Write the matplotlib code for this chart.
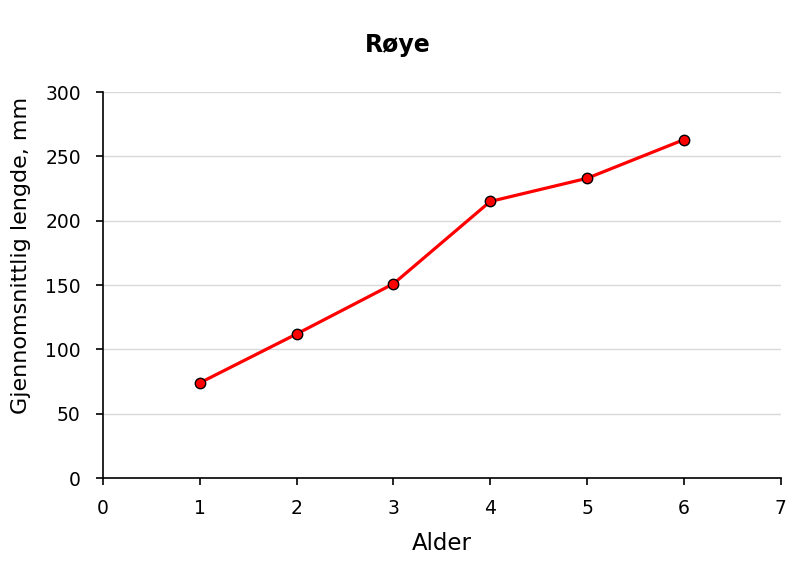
import matplotlib.pyplot as plt

# Data
alder = [1, 2, 3, 4, 5, 6]
lengde = [74, 112, 151, 215, 233, 263]

x_ticks = [0, 1, 2, 3, 4, 5, 6, 7]
y_ticks = [0, 50, 100, 150, 200, 250, 300]

plt.rcParams['font.family'] = ['DejaVu Sans']

fig = plt.figure(figsize=(8.01, 5.83), dpi=100)
ax = fig.add_axes([0.1286, 0.180, 0.846, 0.662])

ax.plot(alder, lengde, color='#ff0000', linewidth=2.3, marker='o',
        markersize=7.5, markerfacecolor='#ff0000', markeredgecolor='black',
        markeredgewidth=1, zorder=3)

ax.set_xlim(0, 7)
ax.set_ylim(0, 300)
ax.set_xticks(x_ticks)
ax.set_yticks(y_ticks)
ax.yaxis.grid(True, color='#d9d9d9', linewidth=1)
ax.set_axisbelow(True)

for side in ['top', 'right']:
    ax.spines[side].set_visible(False)
for side in ['left', 'bottom']:
    ax.spines[side].set_linewidth(1.2)
ax.tick_params(direction='out', length=5, width=1.2, labelsize=13.5)
ax.tick_params(axis='y', pad=11)
ax.tick_params(axis='x', pad=10)

fig.text(0.497, 0.922, 'Røye', fontsize=17, fontweight='bold',
         ha='center', va='center')
ax.set_xlabel('Alder', fontsize=16.5, labelpad=10)
ax.set_ylabel('Gjennomsnittlig lengde, mm', fontsize=16)
ax.yaxis.set_label_coords(-0.107, 0.578)

fig.savefig('out.png', dpi=100)
